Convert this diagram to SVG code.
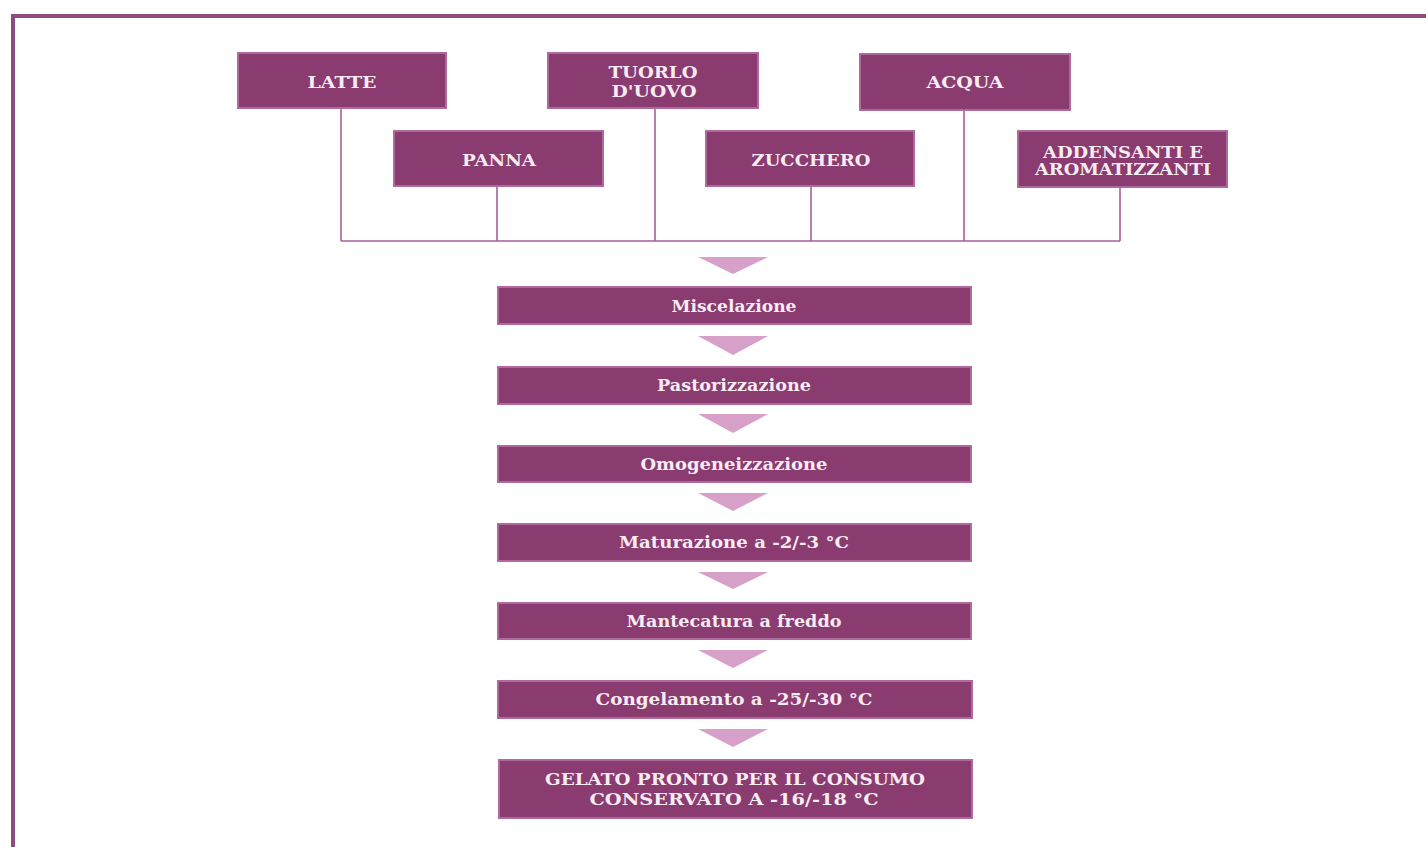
<svg xmlns="http://www.w3.org/2000/svg" width="1426" height="847" viewBox="0 0 1426 847">
  <style>
    .box { fill: #8a3b6f; stroke: #b0699c; stroke-width: 2; }
    .lbl { font-family: "DejaVu Serif", "Liberation Serif", serif; font-weight: bold; font-size: 16px; fill: #f6ecf2; text-anchor: middle; }
    .wire { stroke: #a9609a; stroke-width: 1.6; fill: none; }
    .tri { fill: #d6a0c9; }
    .frame { stroke: #8e4b80; stroke-width: 4; fill: none; }
  </style>

  <rect width="1426" height="847" fill="#ffffff"/>

  <!-- outer frame (top and left edges) -->
  <path class="frame" d="M13,847 V16 H1426"/>

  <!-- connectors: ingredient drops joined to a common bus, then step arrows -->
  <g id="connectors">
    <path class="wire" d="M341,108 V241 M497,186 V241 M655,108 V241 M811,186 V241 M964,110 V241 M1120,187 V241 M341,241 H1120"/>
    <polygon class="tri" points="698,257 768,257 733,274"/>
    <polygon class="tri" points="698,336 768,336 733,355"/>
    <polygon class="tri" points="698,414 768,414 733,433"/>
    <polygon class="tri" points="698,493 768,493 733,511"/>
    <polygon class="tri" points="698,572 768,572 733,589"/>
    <polygon class="tri" points="698,650 768,650 733,668"/>
    <polygon class="tri" points="698,729 768,729 733,747"/>
  </g>

  <!-- ingredients -->
  <g id="latte">
    <rect class="box" x="238" y="53" width="208" height="55"/>
    <text class="lbl" x="342" y="88" textLength="69" lengthAdjust="spacingAndGlyphs">LATTE</text>
  </g>
  <g id="panna">
    <rect class="box" x="394" y="131" width="209" height="55"/>
    <text class="lbl" x="499" y="166" textLength="74" lengthAdjust="spacingAndGlyphs">PANNA</text>
  </g>
  <g id="tuorlo">
    <rect class="box" x="548" y="53" width="210" height="55"/>
    <text class="lbl" x="653" y="78" textLength="89" lengthAdjust="spacingAndGlyphs">TUORLO</text>
    <text class="lbl" x="654" y="97" textLength="85" lengthAdjust="spacingAndGlyphs">D'UOVO</text>
  </g>
  <g id="zucchero">
    <rect class="box" x="706" y="131" width="208" height="55"/>
    <text class="lbl" x="811" y="166" textLength="119" lengthAdjust="spacingAndGlyphs">ZUCCHERO</text>
  </g>
  <g id="acqua">
    <rect class="box" x="860" y="54" width="210" height="56"/>
    <text class="lbl" x="965" y="88" textLength="77" lengthAdjust="spacingAndGlyphs">ACQUA</text>
  </g>
  <g id="addensanti">
    <rect class="box" x="1018" y="131" width="209" height="56"/>
    <text class="lbl" x="1123" y="158" textLength="160" lengthAdjust="spacingAndGlyphs">ADDENSANTI E</text>
    <text class="lbl" x="1123" y="175" textLength="176" lengthAdjust="spacingAndGlyphs">AROMATIZZANTI</text>
  </g>

  <!-- process steps -->
  <g id="miscelazione">
    <rect class="box" x="498" y="287" width="473" height="37"/>
    <text class="lbl" x="734" y="312" textLength="125" lengthAdjust="spacingAndGlyphs">Miscelazione</text>
  </g>
  <g id="pastorizzazione">
    <rect class="box" x="498" y="367" width="473" height="37"/>
    <text class="lbl" x="734" y="391" textLength="154" lengthAdjust="spacingAndGlyphs">Pastorizzazione</text>
  </g>
  <g id="omogeneizzazione">
    <rect class="box" x="498" y="446" width="473" height="36"/>
    <text class="lbl" x="734" y="470" textLength="187" lengthAdjust="spacingAndGlyphs">Omogeneizzazione</text>
  </g>
  <g id="maturazione">
    <rect class="box" x="498" y="524" width="473" height="37"/>
    <text class="lbl" x="734" y="548" textLength="230" lengthAdjust="spacingAndGlyphs">Maturazione a -2/-3 °C</text>
  </g>
  <g id="mantecatura">
    <rect class="box" x="498" y="603" width="473" height="36"/>
    <text class="lbl" x="734" y="627" textLength="215" lengthAdjust="spacingAndGlyphs">Mantecatura a freddo</text>
  </g>
  <g id="congelamento">
    <rect class="box" x="498" y="681" width="474" height="37"/>
    <text class="lbl" x="734" y="705" textLength="277" lengthAdjust="spacingAndGlyphs">Congelamento a -25/-30 °C</text>
  </g>
  <g id="gelato">
    <rect class="box" x="499" y="760" width="473" height="58"/>
    <text class="lbl" x="735" y="785" textLength="380" lengthAdjust="spacingAndGlyphs">GELATO PRONTO PER IL CONSUMO</text>
    <text class="lbl" x="734" y="805" textLength="289" lengthAdjust="spacingAndGlyphs">CONSERVATO A -16/-18 °C</text>
  </g>
</svg>
